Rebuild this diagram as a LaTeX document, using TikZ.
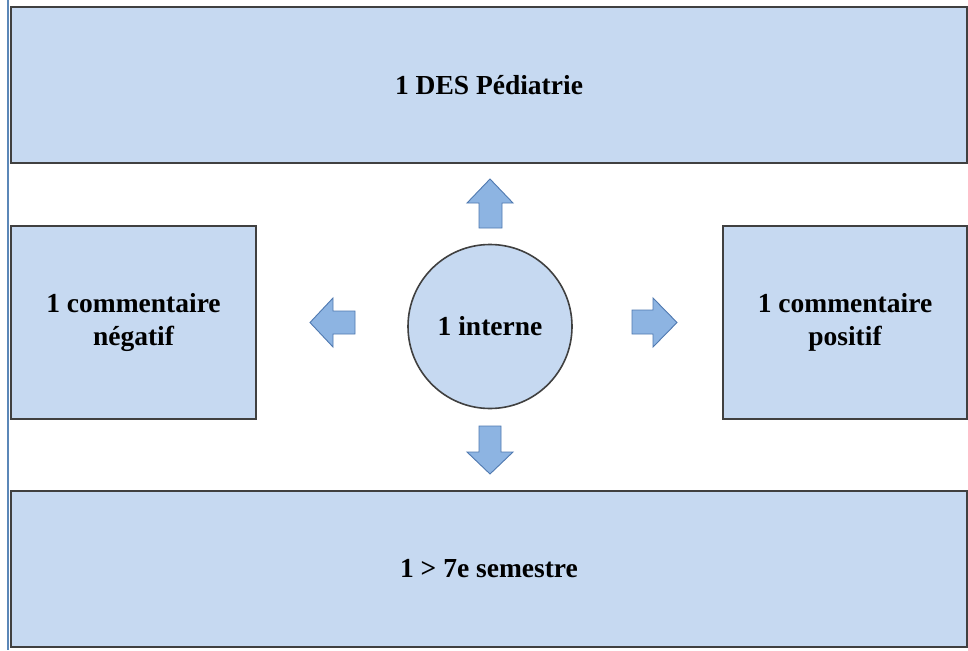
\documentclass[tikz,border=0pt]{standalone}
\usepackage{fontspec}
\setmainfont{Liberation Serif}[BoldFont={Liberation Serif Bold}]
\definecolor{boxfill}{HTML}{C6D9F1}
\definecolor{boxline}{HTML}{404040}
\definecolor{arrfill}{HTML}{8DB4E2}
\definecolor{arrline}{HTML}{4F79B0}
\definecolor{sideline}{HTML}{5B87B8}
\begin{document}
\begin{tikzpicture}[x=1pt,y=-1pt,
  blockbox/.style={draw=boxline,fill=boxfill,line width=1.6pt,align=center,
    font=\fontsize{27.5}{33}\selectfont\bfseries,inner sep=0pt},
  blockarrow/.style={draw=arrline,fill=arrfill,line width=0.9pt,line join=miter}]
\useasboundingbox (0,0) rectangle (968,650);
\fill[white] (0,0) rectangle (968,650);
\draw[sideline,line width=1.5pt] (8,0) -- (8,650);
% boxes
\node[blockbox,minimum width=956pt,minimum height=156pt] (top) at (489,85) {1 DES Pédiatrie};
\node[blockbox,minimum width=245pt,minimum height=193pt] (left) at (133.5,322.5) {1 commentaire\\négatif};
\node[blockbox,minimum width=244pt,minimum height=193pt] (right) at (845,322.5) {1 commentaire\\positif};
\node[blockbox,minimum width=956pt,minimum height=156pt] (bottom) at (489,569) {1 > 7e semestre};
\node[blockbox,circle,minimum size=164pt] (center) at (490,326.5) {1 interne};
% block arrows
\draw[blockarrow] (490,179) -- (513,203) -- (502,203) -- (502,228) -- (479,228) -- (479,203) -- (467,203) -- cycle;
\draw[blockarrow] (490,474) -- (513,452) -- (501,452) -- (501,426) -- (479,426) -- (479,452) -- (467,452) -- cycle;
\draw[blockarrow] (310,322.5) -- (333,298) -- (333,311) -- (355,311) -- (355,334) -- (333,334) -- (333,347) -- cycle;
\draw[blockarrow] (677,322.5) -- (653,298) -- (653,310) -- (632,310) -- (632,334) -- (653,334) -- (653,347) -- cycle;
\end{tikzpicture}
\end{document}
